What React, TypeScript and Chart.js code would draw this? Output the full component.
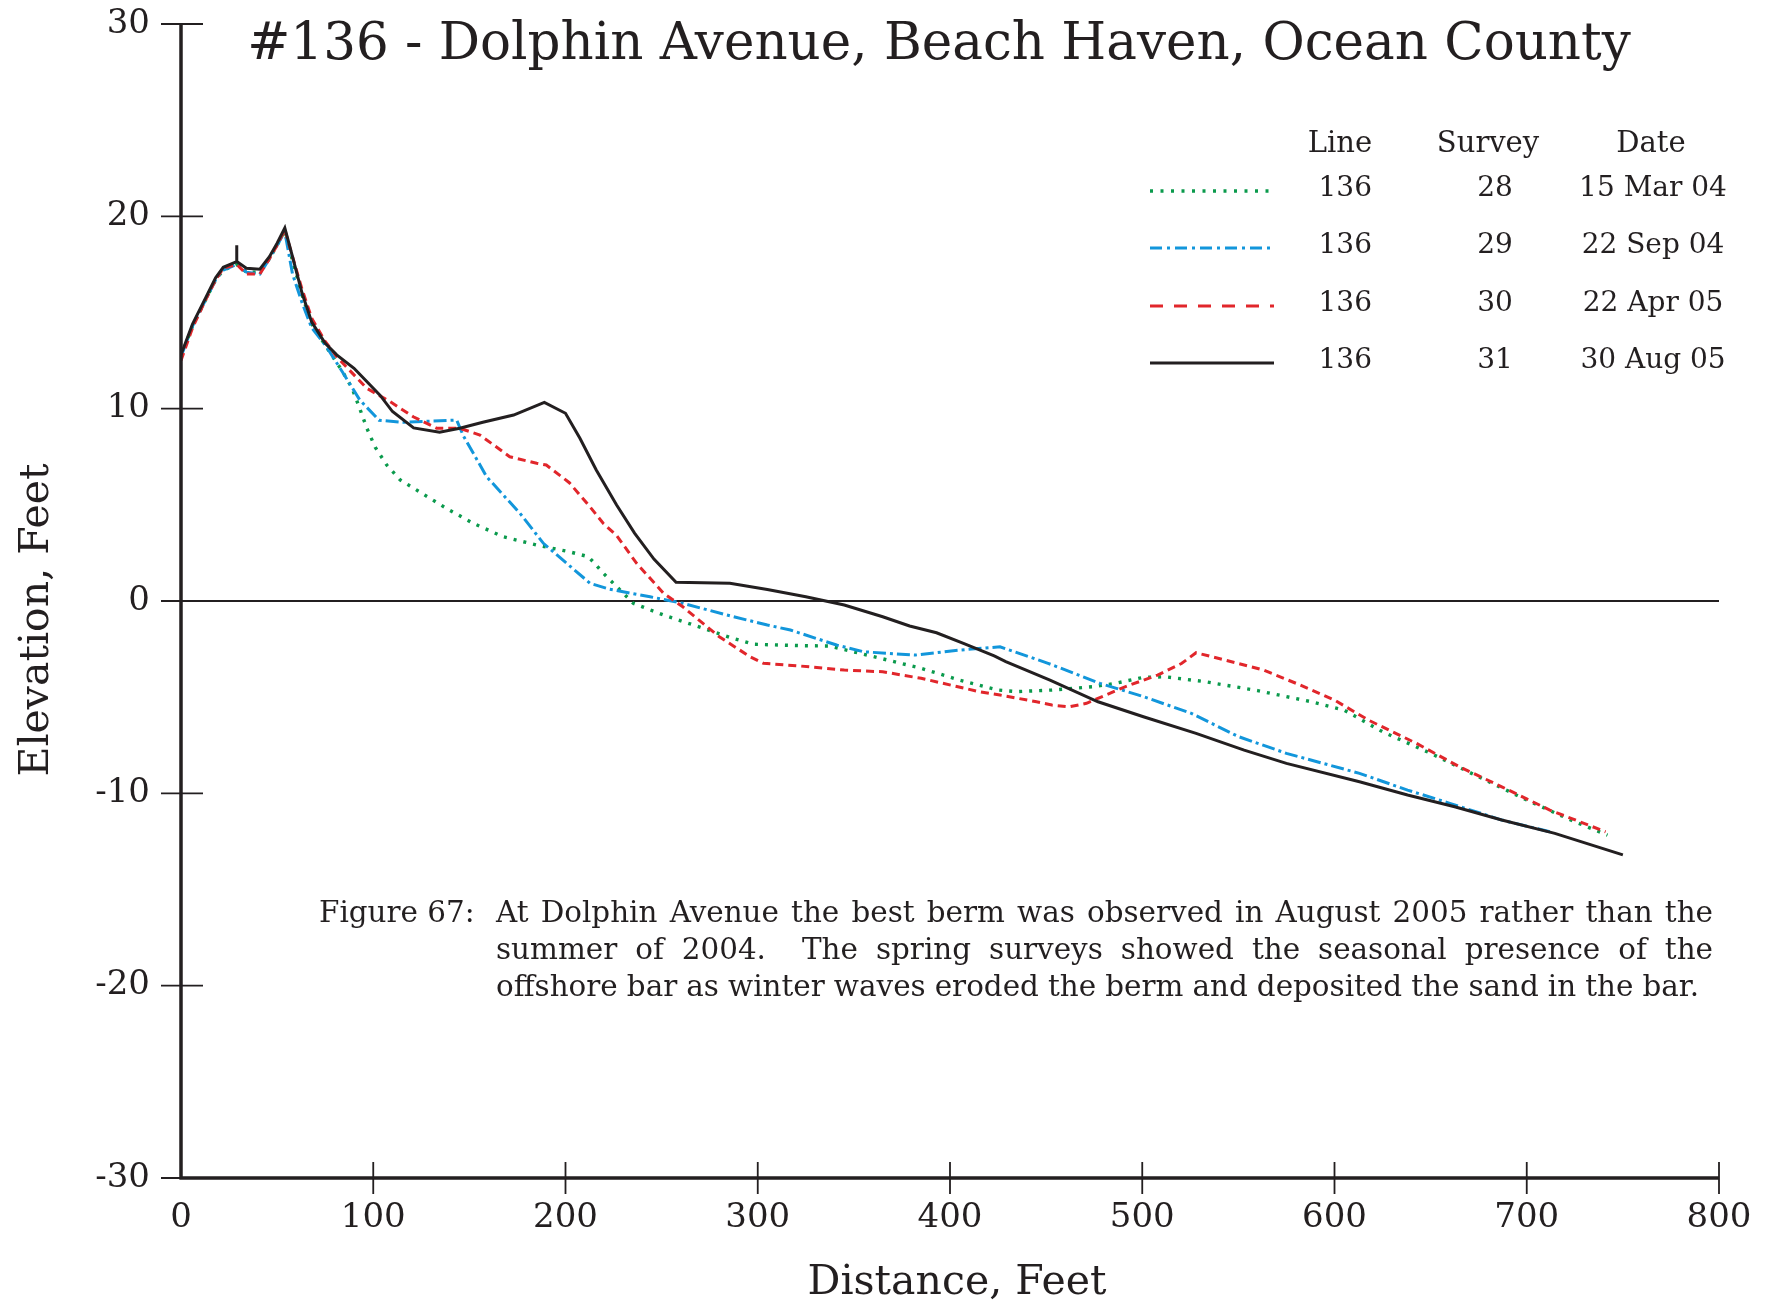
import React, { useEffect, useRef } from "react";
import { Chart, registerables } from "chart.js";

Chart.register(...registerables);

const FONT = '"DejaVu Serif", serif';
const INK = "#231f20";

const titleText = "#136 - Dolphin Avenue, Beach Haven, Ocean County";
const xTitle = "Distance, Feet";
const yTitle = "Elevation, Feet";
const xTicks = [0, 100, 200, 300, 400, 500, 600, 700, 800];
const yTicks = [-30, -20, -10, 0, 10, 20, 30];

const legendHeader = ["Line", "Survey", "Date"];
const legendLine = ["136", "136", "136", "136"];
const legendSurvey = ["28", "29", "30", "31"];
const legendDate = ["15 Mar 04", "22 Sep 04", "22 Apr 05", "30 Aug 05"];

const captionLabel = "Figure 67:";
const captionLines = [
  "At Dolphin Avenue the best berm was observed in August 2005 rather than the",
  "summer of 2004.  The spring surveys showed the seasonal presence of the",
  "offshore bar as winter waves eroded the berm and deposited the sand in the bar.",
];

// Survey 28 - 15 Mar 04
const s28Dist = [0, 6, 13, 18, 22, 29, 34, 41, 46, 50, 54, 58, 63, 68, 75, 83.6, 89, 93, 96.6, 101, 107, 114, 124, 138, 152, 167.6, 185, 202, 212, 219.7, 226.6, 235.3, 251, 271.7, 287, 298, 322, 337, 359, 385, 405, 425, 435, 453, 475, 486, 500.6, 512, 533, 560, 588, 605, 625, 650, 675, 700, 725, 742];
const s28Elev = [12.7, 14.3, 15.7, 16.7, 17.2, 17.5, 17.1, 17.1, 17.8, 18.5, 19.2, 17.7, 15.9, 14.4, 13.3, 12.0, 11.06, 10.0, 9.0, 8.0, 7.07, 6.3, 5.68, 4.82, 4.04, 3.34, 2.91, 2.56, 2.3, 1.44, 0.75, -0.12, -0.73, -1.42, -1.94, -2.25, -2.32, -2.34, -2.86, -3.5, -4.11, -4.63, -4.71, -4.63, -4.45, -4.28, -3.97, -3.94, -4.2, -4.66, -5.24, -5.67, -6.8, -7.92, -9.14, -10.35, -11.48, -12.17];

// Survey 29 - 22 Sep 04
const s29Dist = [0, 6, 13, 18, 22, 29, 34, 41, 46, 50, 54, 58, 63, 68, 75.8, 84.4, 93, 103, 115.6, 143.4, 146.8, 159, 176.3, 188.5, 200.6, 212.8, 223, 244, 261, 284, 305, 317, 341, 355, 382, 405, 426, 451, 478, 500.6, 525.5, 550, 575, 613, 638, 660, 687, 712];
const s29Elev = [12.7, 14.3, 15.7, 16.7, 17.2, 17.5, 17.1, 17.0, 17.8, 18.5, 19.2, 17.0, 15.5, 14.2, 13.2, 11.84, 10.45, 9.4, 9.29, 9.41, 8.6, 6.46, 4.56, 3.0, 1.96, 0.92, 0.61, 0.22, -0.12, -0.73, -1.25, -1.51, -2.29, -2.64, -2.81, -2.55, -2.38, -3.24, -4.28, -4.97, -5.84, -7.05, -7.92, -8.96, -9.83, -10.52, -11.39, -12.0];

// Survey 30 - 22 Apr 05
const s30Dist = [0, 6, 13, 18, 22, 29, 34, 41, 46, 50, 54, 58, 63, 68, 75, 81, 96.6, 108.7, 120.8, 133, 145, 155.5, 171, 185, 190, 202, 212.7, 219.7, 226.6, 237, 251, 261, 280, 296, 303, 322, 345, 365, 385, 415, 426, 445, 453, 462, 471, 491, 508, 520.6, 528, 543, 563, 580, 600, 617.6, 642.6, 665, 687, 712, 741];
const s30Elev = [12.5, 14.2, 15.7, 16.7, 17.3, 17.5, 17.0, 17.0, 17.8, 18.5, 19.3, 17.9, 16.2, 14.7, 13.5, 12.7, 11.06, 10.37, 9.58, 8.98, 8.98, 8.63, 7.5, 7.16, 7.07, 6.15, 4.9, 4.03, 3.4, 1.96, 0.4, -0.3, -1.86, -2.9, -3.24, -3.38, -3.59, -3.68, -4.02, -4.71, -4.89, -5.24, -5.41, -5.5, -5.32, -4.46, -3.85, -3.24, -2.69, -3.07, -3.59, -4.28, -5.15, -6.19, -7.4, -8.62, -9.66, -10.87, -12.0];

// Survey 31 - 30 Aug 05
const s31Dist = [0, 6, 13, 18, 22, 29, 29, 29, 34, 41, 46, 50, 54, 58, 63, 68, 75, 81, 90, 97, 103.5, 110, 121, 134.5, 145, 157, 173, 189, 200, 207.5, 216, 226.5, 236, 246, 257.5, 285.5, 305, 325, 345, 365, 379, 393, 407, 423, 429, 452, 477, 500.6, 528, 553, 575, 613, 638, 662.5, 687, 714.6, 750];
const s31Elev = [12.8, 14.4, 15.8, 16.8, 17.35, 17.65, 18.5, 17.65, 17.3, 17.25, 17.9, 18.6, 19.4, 17.9, 16.0, 14.5, 13.4, 12.8, 12.1, 11.37, 10.7, 9.85, 9.0, 8.77, 8.98, 9.29, 9.67, 10.33, 9.76, 8.46, 6.81, 5.0, 3.52, 2.18, 0.97, 0.92, 0.6, 0.22, -0.21, -0.82, -1.3, -1.65, -2.2, -2.85, -3.15, -4.11, -5.24, -6.02, -6.88, -7.75, -8.44, -9.4, -10.09, -10.7, -11.39, -12.08, -13.2];

const seriesDist = [s28Dist, s29Dist, s30Dist, s31Dist];
const seriesElev = [s28Elev, s29Elev, s30Elev, s31Elev];
const seriesColor = ["#0a9a4c", "#1296db", "#e1262b", INK];
const seriesDash = [[3, 7], [13, 4, 3, 4], [8, 5], []];
const seriesWidth = [3.4, 3, 3, 3];
const legendDash = [[3, 7.5], [12, 5, 3, 5], [13, 11], []];

const W = 1776;
const H = 1301;
const PLOT_TOP = 24;
const PLOT_BOTTOM = 1178;

function drawJustified(ctx: CanvasRenderingContext2D, text: string, x: number, yb: number, width: number) {
  const words = text.split(" ");
  const widths = words.map((w) => ctx.measureText(w).width);
  const total = widths.reduce((a, b) => a + b, 0);
  const gap = (width - total) / (words.length - 1);
  let cx = x;
  words.forEach((w, i) => {
    ctx.fillText(w, cx, yb);
    cx += widths[i] + gap;
  });
}

const overlay = {
  id: "overlay",
  beforeDatasetsDraw(chart: any) {
    const { ctx, chartArea: a, scales } = chart;
    const y = scales.y;
    const x = scales.x;
    ctx.save();
    ctx.strokeStyle = INK;
    ctx.lineWidth = 2;
    const y0 = y.getPixelForValue(0);
    ctx.beginPath();
    ctx.moveTo(a.left, y0);
    ctx.lineTo(x.getPixelForValue(800), y0);
    ctx.stroke();
    ctx.restore();
  },
  afterDatasetsDraw(chart: any) {
    const { ctx, chartArea: a, scales } = chart;
    const x = scales.x;
    const y = scales.y;
    ctx.save();
    ctx.strokeStyle = INK;
    ctx.lineWidth = 3.5;
    ctx.beginPath();
    ctx.moveTo(a.left, y.getPixelForValue(30));
    ctx.lineTo(a.left, a.bottom + 1.5);
    ctx.moveTo(a.left - 1.5, a.bottom);
    ctx.lineTo(x.getPixelForValue(800), a.bottom);
    ctx.stroke();
    ctx.lineWidth = 1.8;
    ctx.beginPath();
    yTicks.forEach((v) => {
      const py = y.getPixelForValue(v);
      ctx.moveTo(a.left - 20, py);
      ctx.lineTo(a.left + 22, py);
    });
    xTicks.forEach((v) => {
      if (v === 0) return;
      const px = x.getPixelForValue(v);
      ctx.moveTo(px, a.bottom - 16);
      ctx.lineTo(px, a.bottom + 16);
    });
    ctx.stroke();

    ctx.fillStyle = INK;
    ctx.font = `51.5px ${FONT}`;
    ctx.textAlign = "center";
    ctx.textBaseline = "alphabetic";
    ctx.fillText(titleText, 939, 59);
    ctx.font = `41px ${FONT}`;
    ctx.fillText(xTitle, 957, 1294);
    ctx.save();
    ctx.translate(48, 620);
    ctx.rotate(-Math.PI / 2);
    ctx.fillText(yTitle, 0, 0);
    ctx.restore();

    ctx.font = `29px ${FONT}`;
    ctx.textAlign = "center";
    const hx = [1340, 1488, 1651];
    legendHeader.forEach((h, i) => ctx.fillText(h, hx[i], 152));
    ctx.font = `28px ${FONT}`;
    const rowBase = [196, 253, 311, 368];
    legendLine.forEach((_, i) => {
      ctx.textAlign = "right";
      ctx.fillText(legendLine[i], 1372, rowBase[i]);
      ctx.textAlign = "center";
      ctx.fillText(legendSurvey[i], 1495, rowBase[i]);
      ctx.fillText(legendDate[i], 1653, rowBase[i]);
      ctx.save();
      ctx.strokeStyle = seriesColor[i];
      ctx.lineWidth = seriesWidth[i];
      ctx.setLineDash(legendDash[i]);
      ctx.beginPath();
      const ly = rowBase[i] - 5;
      ctx.moveTo(1150, ly);
      ctx.lineTo(1274, ly);
      ctx.stroke();
      ctx.restore();
    });

    ctx.font = `29.4px ${FONT}`;
    ctx.textAlign = "left";
    ctx.fillText(captionLabel, 319, 922);
    const capBase = [922, 959, 996];
    const capRight = [1713, 1713, 1699];
    captionLines.forEach((line, i) => {
      drawJustified(ctx, line, 496, capBase[i], capRight[i] - 496);
    });
    ctx.restore();
  },
};

export default function App() {
  const ref = useRef<HTMLCanvasElement>(null);
  useEffect(() => {
    const canvas = ref.current;
    if (!canvas) return;
    const order = [3, 2, 1, 0];
    const chart = new Chart(canvas, {
      type: "line",
      data: {
        datasets: seriesDist.map((d, i) => ({
          label: legendSurvey[i],
          data: d.map((xv, j) => ({ x: xv, y: seriesElev[i][j] })),
          borderColor: seriesColor[i],
          borderWidth: seriesWidth[i],
          borderDash: seriesDash[i],
          pointRadius: 0,
          tension: 0,
          fill: false,
          order: order[i],
        })),
      },
      options: {
        responsive: false,
        devicePixelRatio: 1,
        animation: false,
        layout: { padding: { top: PLOT_TOP, right: 57, left: 0, bottom: 0 } },
        plugins: { legend: { display: false }, tooltip: { enabled: false }, title: { display: false } },
        scales: {
          x: {
            type: "linear",
            min: 0,
            max: 800,
            afterBuildTicks: (s: any) => {
              s.ticks = xTicks.map((v) => ({ value: v }));
            },
            ticks: {
              color: INK,
              font: { family: FONT, size: 34 },
              padding: 20,
              maxRotation: 0,
              autoSkip: false,
              callback: (v: any) => String(v),
            },
            grid: { display: false, drawTicks: false },
            border: { display: false },
            afterFit: (s: any) => {
              s.height = H - PLOT_BOTTOM;
              s.paddingLeft = 0;
              s.paddingRight = 0;
            },
          },
          y: {
            type: "linear",
            min: -30,
            max: 30,
            afterBuildTicks: (s: any) => {
              s.ticks = yTicks.map((v) => ({ value: v }));
            },
            ticks: {
              color: INK,
              font: { family: FONT, size: 34 },
              padding: 31,
              autoSkip: false,
              callback: (v: any) => String(v),
            },
            grid: { display: false, drawTicks: false },
            border: { display: false },
            afterFit: (s: any) => {
              s.width = 181;
              s.paddingTop = 0;
              s.paddingBottom = 0;
            },
          },
        },
      },
      plugins: [overlay],
    } as any);
    return () => chart.destroy();
  }, []);
  return (
    <div style={{ position: "absolute", left: 0, top: 0, width: W, height: H, background: "#fff" }}>
      <canvas ref={ref} width={W} height={H} style={{ display: "block", width: W, height: H }} />
    </div>
  );
}
